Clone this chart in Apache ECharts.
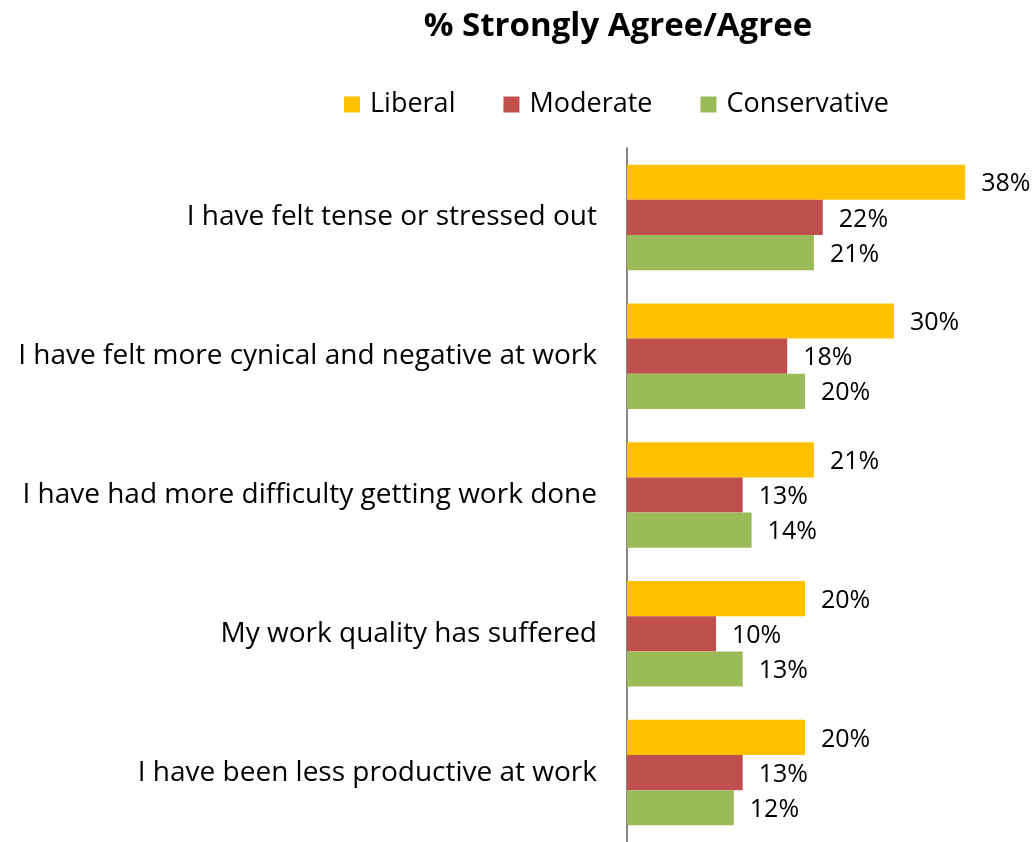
<!DOCTYPE html>
<html>
<head>
<meta charset="utf-8">
<title>% Strongly Agree/Agree</title>
<script src="https://cdn.jsdelivr.net/npm/echarts@6/dist/echarts.min.js"></script>
<style>
  html, body { margin: 0; padding: 0; background: #ffffff; }
  #chart { width: 1034px; height: 842px; }
</style>
</head>
<body>
<div id="chart"></div>
<script>
// Survey statements, top to bottom
const categories = [
  'I have felt tense or stressed out',
  'I have felt more cynical and negative at work',
  'I have had more difficulty getting work done',
  'My work quality has suffered',
  'I have been less productive at work'
];

// Share who strongly agree / agree, in percent
const liberal      = [38, 30, 21, 20, 20];
const moderate     = [22, 18, 13, 10, 13];
const conservative = [21, 20, 14, 13, 12];

const seriesNames = ['Liberal', 'Moderate', 'Conservative'];
const seriesColors = ['#FFC000', '#C0504D', '#9BBB59'];

const FONT = '"Open Sans", "Liberation Sans", sans-serif';

const chart = echarts.init(document.getElementById('chart'), null, { renderer: 'canvas' });

function barSeries(name, values, color) {
  return {
    name: name,
    type: 'bar',
    data: values,
    barGap: '0%',
    barCategoryGap: '24%',
    itemStyle: { color: color },
    label: {
      show: true,
      position: 'right',
      distance: 16,
      offset: [0, 2],
      formatter: '{c}%',
      color: '#000000',
      fontFamily: FONT,
      fontSize: 25
    },
    emphasis: { disabled: true },
    animation: false
  };
}

chart.setOption({
  backgroundColor: '#ffffff',
  animation: false,
  title: {
    text: '% Strongly Agree/Agree',
    left: 613,
    top: 5,
    textAlign: 'center',
    textStyle: {
      fontFamily: FONT,
      fontWeight: 'bold',
      fontSize: 33,
      color: '#000000'
    }
  },
  legend: {
    data: seriesNames,
    left: 339,
    top: 86,
    itemWidth: 16,
    itemHeight: 16,
    itemGap: 48,
    icon: 'rect',
    textStyle: {
      fontFamily: FONT,
      fontSize: 27,
      color: '#000000',
      padding: [0, 0, 0, 5]
    }
  },
  grid: {
    left: 627,
    top: 148,
    width: 356,
    height: 699,
    containLabel: false
  },
  xAxis: {
    type: 'value',
    min: 0,
    max: 40,
    show: false
  },
  yAxis: {
    type: 'category',
    data: categories,
    inverse: true,
    axisLine: { show: true, lineStyle: { color: '#868686', width: 2 } },
    axisTick: { show: false },
    splitLine: { show: false },
    axisLabel: {
      margin: 30,
      color: '#000000',
      fontFamily: FONT,
      fontSize: 28,
      padding: [5, 0, 0, 0]
    }
  },
  series: [
    barSeries(seriesNames[0], liberal, seriesColors[0]),
    barSeries(seriesNames[1], moderate, seriesColors[1]),
    barSeries(seriesNames[2], conservative, seriesColors[2])
  ]
});
</script>
</body>
</html>
